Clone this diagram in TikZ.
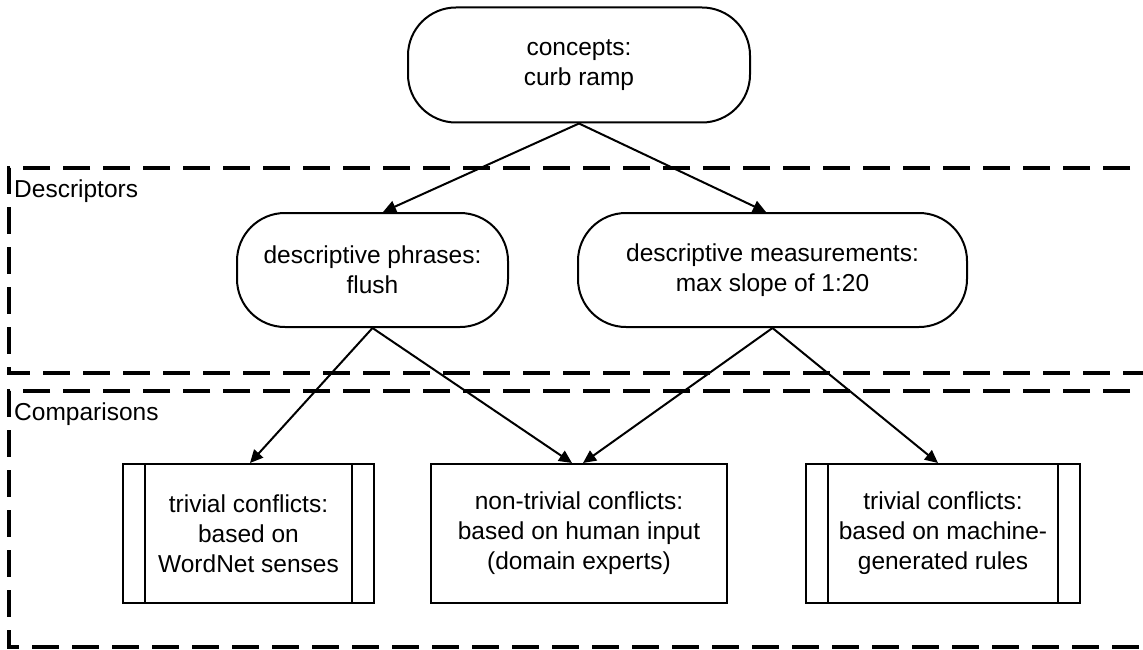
\documentclass[tikz,border=0pt]{standalone}
\usepackage{fontspec}
\setmainfont{Liberation Sans}
\usetikzlibrary{arrows.meta}
\begin{document}
\begin{tikzpicture}[x=1pt,y=-1pt,
  every node/.style={font=\fontsize{24.5}{30}\selectfont, align=center, inner sep=0pt},
  stadium/.style={draw, line width=2pt, rounded corners=48pt},
  procbox/.style={draw, line width=2pt},
  group/.style={draw, line width=4pt, dash pattern=on 27pt off 13pt},
  link/.style={line width=2pt, -{Triangle[length=13pt,width=12pt]}},
  grouplabel/.style={anchor=base west}]
  \useasboundingbox (0,0) rectangle (1143,650);
  \clip (0,0) rectangle (1143,650);

  % dashed groups
  \draw[group] (1170,168) -- (9,168) -- (9,373) -- (1170,373);
  \draw[group] (1170,391) -- (9,391) -- (9,647) -- (1170,647);
  \node[grouplabel] (ldesc) at (14,197) {Descriptors};
  \node[grouplabel] (lcomp) at (14,420) {Comparisons};

  % concept and descriptor nodes
  \node[stadium, minimum width=342pt, minimum height=115pt] (con) at (579,65) {concepts:\\curb ramp};
  \node[stadium, minimum width=271pt, minimum height=114pt] (phr) at (372.5,270) {descriptive phrases:\\flush};
  \node[stadium, minimum width=389pt, minimum height=114pt] (mea) at (772.5,270) {descriptive measurements:\\max slope of 1:20};

  % comparison nodes
  \node[procbox, minimum width=251pt, minimum height=139pt] (tw) at (248.5,533.5) {trivial conflicts:\\based on\\WordNet senses};
  \node[procbox, minimum width=296pt, minimum height=139pt] (nt) at (579,533.5) {non-trivial conflicts:\\based on human input\\(domain experts)};
  \node[procbox, minimum width=274pt, minimum height=139pt] (tm) at (943,533.5) {trivial conflicts:\\based on machine-\\generated rules};
  \foreach \n in {tw,tm}{
    \draw[line width=2pt] ([xshift=23pt]\n.north west) -- ([xshift=23pt]\n.south west);
    \draw[line width=2pt] ([xshift=-23pt]\n.north east) -- ([xshift=-23pt]\n.south east);
  }

  % connectors
  \draw[link] (con.south) -- ([xshift=10.5pt]phr.north);
  \draw[link] (con.south) -- ([xshift=-6.5pt]mea.north);
  \draw[link] (phr.south) -- ([xshift=1.5pt]tw.north);
  \draw[link] (phr.south) -- ([xshift=-7pt]nt.north);
  \draw[link] (mea.south) -- ([xshift=4pt]nt.north);
  \draw[link] (mea.south) -- ([xshift=-5pt]tm.north);
\end{tikzpicture}
\end{document}
